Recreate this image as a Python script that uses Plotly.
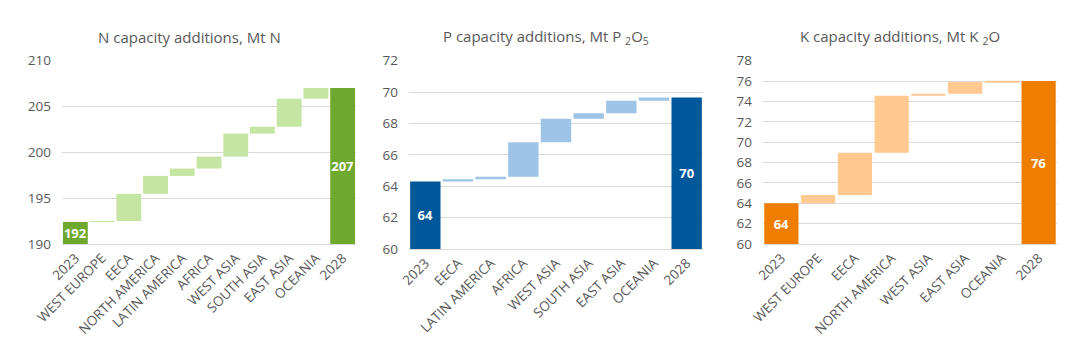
import plotly.graph_objects as go

# ---------------- data ----------------
n_categories = ["2023", "WEST EUROPE", "EECA", "NORTH AMERICA", "LATIN AMERICA", "AFRICA",
                "WEST ASIA", "SOUTH ASIA", "EAST ASIA", "OCEANIA", "2028"]
n_start = 192.4
n_deltas = [0.1, 2.95, 1.95, 0.8, 1.3, 2.5, 0.75, 3.05, 1.15]
n_end = 206.95
n_labels = ["192", "207"]

p_categories = ["2023", "EECA", "LATIN AMERICA", "AFRICA", "WEST ASIA", "SOUTH ASIA",
                "EAST ASIA", "OCEANIA", "2028"]
p_start = 64.3
p_deltas = [0.15, 0.15, 2.2, 1.5, 0.35, 0.8, 0.2]
p_end = 69.65
p_labels = ["64", "70"]

k_categories = ["2023", "WEST EUROPE", "EECA", "NORTH AMERICA", "WEST ASIA", "EAST ASIA",
                "OCEANIA", "2028"]
k_start = 64.0
k_deltas = [0.8, 4.15, 5.6, 0.2, 1.15, 0.1]
k_end = 76.0
k_labels = ["64", "76"]

titles = ["N capacity additions, Mt N",
          "P capacity additions, Mt P <sub>2</sub>O<sub>5</sub>",
          "K capacity additions, Mt K <sub>2</sub>O"]

# ---------------- style ----------------
FONT = "Open Sans"
GREY = "#595959"
GRID = "#d9d9d9"

panels = [
    dict(cats=n_categories, start=n_start, deltas=n_deltas, end=n_end, labels=n_labels,
         dark="#6fa82f", light="#c5e5a2", yr=[190, 210], dt=5,
         xd=[62 / 1080, 356 / 1080], yd=[1 - 244 / 338, 1 - 60 / 338], tx=189),
    dict(cats=p_categories, start=p_start, deltas=p_deltas, end=p_end, labels=p_labels,
         dark="#00579a", light="#9dc3e6", yr=[60, 72], dt=2,
         xd=[409 / 1080, 703 / 1080], yd=[1 - 249 / 338, 1 - 60.7 / 338], tx=546),
    dict(cats=k_categories, start=k_start, deltas=k_deltas, end=k_end, labels=k_labels,
         dark="#ef7d00", light="#ffc98f", yr=[60, 78], dt=2,
         xd=[763 / 1080, 1057 / 1080], yd=[1 - 244 / 338, 1 - 60.7 / 338], tx=900),
]

fig = go.Figure()
annotations = []
for i, p in enumerate(panels):
    sfx = "" if i == 0 else str(i + 1)
    ymin = p["yr"][0]
    bases, heights, colors, texts = [], [], [], []
    # start total
    bases.append(ymin)
    heights.append(p["start"] - ymin)
    colors.append(p["dark"])
    texts.append(p["labels"][0])
    run = p["start"]
    for d in p["deltas"]:
        bases.append(run)
        heights.append(d)
        colors.append(p["light"])
        texts.append("")
        run += d
    bases.append(ymin)
    heights.append(p["end"] - ymin)
    colors.append(p["dark"])
    texts.append(p["labels"][1])

    fig.add_trace(go.Bar(
        x=p["cats"], y=heights, base=bases,
        marker=dict(color=colors, line=dict(width=0)),
        text=texts, textposition="inside", insidetextanchor="middle", textangle=0,
        textfont=dict(family=FONT, size=13, color="white", weight="bold"),
        xaxis="x" + sfx, yaxis="y" + sfx, showlegend=False,
    ))
    fig.layout["xaxis" + sfx] = dict(
        domain=p["xd"], anchor="y" + sfx, type="category", tickangle=-45,
        showgrid=False, showline=True, linecolor=GRID, linewidth=1, ticks="",
        tickfont=dict(family=FONT, size=13.5, color=GREY), fixedrange=True,
        automargin=False,
    )
    fig.layout["yaxis" + sfx] = dict(
        domain=p["yd"], anchor="x" + sfx, range=p["yr"], dtick=p["dt"], tick0=0,
        showgrid=True, gridcolor=GRID, gridwidth=1, zeroline=False, showline=False,
        ticks="", tickfont=dict(family=FONT, size=13.5, color=GREY), ticklabelstandoff=10,
        fixedrange=True, automargin=False,
    )
    annotations.append(dict(
        text=titles[i], x=p["tx"] / 1080, y=1 - 37 / 338, xref="paper", yref="paper",
        xanchor="center", yanchor="middle", showarrow=False,
        font=dict(family=FONT, size=15, color=GREY),
    ))

fig.update_layout(
    width=1080, height=338, margin=dict(l=0, r=0, t=0, b=0),
    paper_bgcolor="white", plot_bgcolor="white", bargap=0.07,
    annotations=annotations, uniformtext=dict(minsize=13, mode="show"),
    font=dict(family=FONT, color=GREY),
)

fig.write_html("out.html")
